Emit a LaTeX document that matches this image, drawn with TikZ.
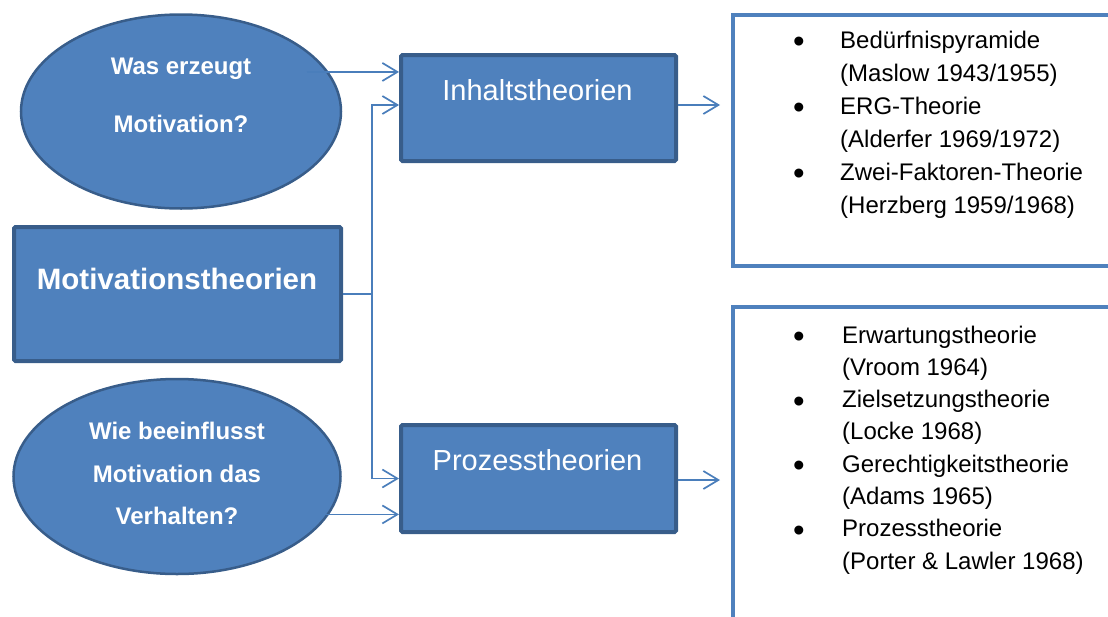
\documentclass[tikz,border=0pt]{standalone}
\usepackage{fontspec}
\setmainfont{Liberation Sans}
\usetikzlibrary{shapes.geometric,arrows.meta}
\definecolor{fillblue}{HTML}{4F81BD}
\definecolor{edgeblue}{HTML}{385D8A}
\definecolor{lineblue}{HTML}{4A7EBB}
\newcommand{\bigbul}{\raisebox{-4.5pt}{\fontsize{33}{33}\selectfont\textbullet}}
\begin{document}
\begin{tikzpicture}[x=1pt,y=-1pt,
  quest/.style={ellipse, draw=edgeblue, line width=2.5pt, fill=fillblue, inner sep=0pt},
  bluebox/.style={rectangle, rounded corners=1.5pt, draw=edgeblue, line width=4pt, fill=fillblue, inner sep=0pt},
  listbox/.style={rectangle, draw=fillblue, line width=4pt, fill=white, inner sep=0pt},
  wtext/.style={text=white, inner sep=0pt, anchor=base},
  qtext/.style={wtext, font=\fontsize{24}{28}\selectfont\bfseries},
  ttext/.style={wtext, font=\fontsize{29}{34}\selectfont},
  conn/.style={draw=lineblue, line width=1.7pt},
  arr/.style={conn, -{Straight Barb[length=15pt,width=18pt]}},
  listtext/.style={anchor=base west, inner sep=0pt, text=black}
]
\useasboundingbox (0,0) rectangle (1108,616);
\clip (0,0) rectangle (1108,616);

% shapes
\node[quest, minimum width=320pt, minimum height=194pt] (q1) at (181,111.5) {};
\node[quest, minimum width=327pt, minimum height=195pt] (q2) at (177,476.5) {};
\node[bluebox, minimum width=327pt, minimum height=134pt] (mot) at (177.5,294) {};
\node[bluebox, minimum width=275pt, minimum height=106pt] (inh) at (538.5,108) {};
\node[bluebox, minimum width=275pt, minimum height=107pt] (proz) at (538.5,478.5) {};
\node[listbox, minimum width=382pt, minimum height=251pt] (lst1) at (924,140.5) {};
\node[listbox, minimum width=382pt, minimum height=322pt] (lst2) at (924,468) {};

% texts
\node[qtext] (q1a) at (181,74) {Was erzeugt};
\node[qtext] (q1b) at (181,132) {Motivation?};
\node[qtext] (q2a) at (177,439) {Wie beeinflusst};
\node[qtext] (q2b) at (177,482) {Motivation das};
\node[qtext] (q2c) at (177,524) {Verhalten?};
\node[wtext, font=\fontsize{29.5}{34}\selectfont\bfseries] (motT) at (177,289) {Motivationstheorien};
\node[ttext] (inhT) at (537.5,100) {Inhaltstheorien};
\node[ttext] (prozT) at (537.5,470) {Prozesstheorien};

\node[listtext, font=\fontsize{24}{33}\selectfont] (l1) at (793,48.3) {%
\begin{tabular}[t]{@{}p{47pt}@{}l@{}}
\bigbul & Bedürfnispyramide\\
 & (Maslow 1943/1955)\\
\bigbul & ERG-Theorie\\
 & (Alderfer 1969/1972)\\
\bigbul & Zwei-Faktoren-Theorie\\
 & (Herzberg 1959/1968)
\end{tabular}};
\node[listtext, font=\fontsize{24}{32.3}\selectfont] (l2) at (793,343) {%
\begin{tabular}[t]{@{}p{49pt}@{}l@{}}
\bigbul & Erwartungstheorie\\
 & (Vroom 1964)\\
\bigbul & Zielsetzungstheorie\\
 & (Locke 1968)\\
\bigbul & Gerechtigkeitstheorie\\
 & (Adams 1965)\\
\bigbul & Prozesstheorie\\
 & (Porter \& Lawler 1968)
\end{tabular}};

% connectors
\coordinate (bus) at (372,294);
\draw[arr] ([xshift=-22pt]q1.15) -- (q1.15 -| inh.west);
\draw[conn] (mot.east) -- (bus);
\draw[arr] (bus) |- ([yshift=3pt]inh.west);
\draw[arr] (bus) |- (proz.west);
\draw[arr] ([xshift=-3pt]q2.-14.5) -- (q2.-14.5 -| proz.west);
\draw[arr, shorten >=11pt] ([yshift=3pt]inh.east) -- ([yshift=3pt]inh.east -| lst1.west);
\draw[arr, shorten >=11pt] ([yshift=-1.5pt]proz.east) -- ([yshift=-1.5pt]proz.east -| lst2.west);
\end{tikzpicture}
\end{document}
